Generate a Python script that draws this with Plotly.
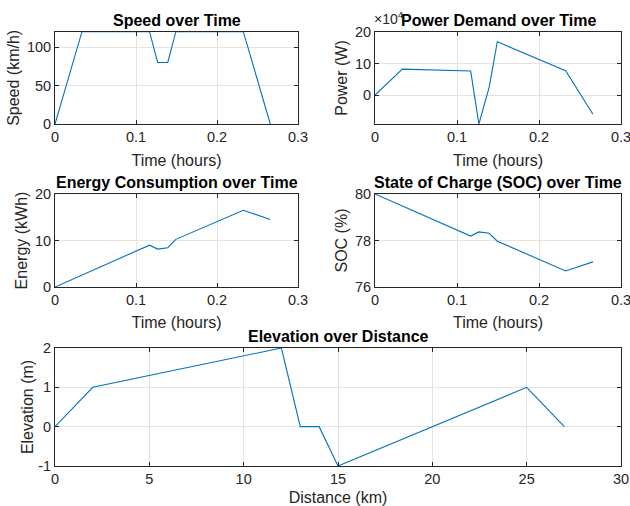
import plotly.graph_objects as go

# ---- data ----
time_h = [0, 0.0333, 0.1167, 0.1267, 0.1392, 0.1492, 0.2325, 0.2658]
speed_kmh = [0, 120, 120, 80, 80, 120, 120, 0]
power_w = [0, 82000, 76000, -92000, 24000, 169000, 77000, -61000]
energy_kwh = [0, 2.57, 9.0, 8.15, 8.45, 10.25, 16.5, 14.5]
soc_pct = [80, 79.49, 78.19, 78.37, 78.31, 77.97, 76.69, 77.08]
distance_km = [0, 2, 12, 13, 14, 15, 25, 27]
elevation_m = [0, 1, 2, 0, 0, -1, 1, 0]

W, H = 630, 506
LINE = "#0072BD"
TXT = "#262626"
GRID = "#e3e3e3"
FONT = "Liberation Sans, Arial, sans-serif"

def px(x):
    return x / W

def py(y):
    return 1 - y / H

# plot areas in page pixels: left, right, top, bottom
boxes = {
    1: (55, 298, 31.7, 124),
    2: (375, 621, 32, 124),
    3: (55, 298, 194, 287),
    4: (375, 621, 194, 287),
    5: (55, 621, 348, 466),
}

fig = go.Figure()
series = [
    (time_h, speed_kmh),
    (time_h, power_w),
    (time_h, energy_kwh),
    (time_h, soc_pct),
    (distance_km, elevation_m),
]
for i, (xs, ys) in enumerate(series, start=1):
    sfx = "" if i == 1 else str(i)
    fig.add_trace(go.Scatter(x=xs, y=ys, mode="lines",
                             line=dict(color=LINE, width=1.1),
                             xaxis="x" + sfx, yaxis="y" + sfx,
                             showlegend=False, hoverinfo="skip"))

axis_common = dict(showline=True, linecolor=TXT, linewidth=1, mirror="allticks",
                   ticks="inside", ticklen=4, tickcolor=TXT, showgrid=True,
                   gridcolor=GRID, gridwidth=1, zeroline=False, automargin=False,
                   ticklabeloverflow="allow",
                   tickfont=dict(size=14.5, color=TXT, family=FONT))

ylabels = {1: "Speed (km/h)", 2: "Power (W)", 3: "Energy (kWh)", 4: "SOC (%)", 5: "Elevation (m)"}
xlabels = {1: "Time (hours)", 2: "Time (hours)", 3: "Time (hours)", 4: "Time (hours)", 5: "Distance (km)"}
yranges = {1: [0, 120], 2: [-92000, 200000], 3: [0, 20], 4: [76, 80], 5: [-1, 2]}
xranges = {1: [0, 0.3], 2: [0, 0.3], 3: [0, 0.3], 4: [0, 0.3], 5: [0, 30]}
ytickv = {1: [0, 50, 100], 2: [0, 100000, 200000], 3: [0, 10, 20], 4: [76, 78, 80], 5: [-1, 0, 1, 2]}
yticktext = {1: ["0", "50", "100"], 2: ["0", "10", "20"], 3: ["0", "10", "20"],
             4: ["76", "78", "80"], 5: ["-1", "0", "1", "2"]}
xtickv = {i: [0, 0.1, 0.2, 0.3] for i in range(1, 5)}
xtickv[5] = [0, 5, 10, 15, 20, 25, 30]
xticktext = {i: ["0", "0.1", "0.2", "0.3"] for i in range(1, 5)}
xticktext[5] = ["0", "5", "10", "15", "20", "25", "30"]
titles = {1: "Speed over Time", 2: "Power Demand over Time", 3: "Energy Consumption over Time",
          4: "State of Charge (SOC) over Time", 5: "Elevation over Distance"}
xstand = {1: 10, 2: 10, 3: 9, 4: 9, 5: 15}
ystand = {1: 3, 2: 3, 3: 3, 4: 3, 5: 0}

layout = dict(width=W, height=H, margin=dict(l=0, r=0, t=0, b=0),
              paper_bgcolor="white", plot_bgcolor="white",
              font=dict(family=FONT, color=TXT))
annotations = []
for i in range(1, 6):
    sfx = "" if i == 1 else str(i)
    l, r, t, b = boxes[i]
    layout["xaxis" + sfx] = dict(axis_common, domain=[px(l), px(r)], anchor="y" + sfx,
                                 range=xranges[i], tickmode="array", tickvals=xtickv[i],
                                 ticktext=xticktext[i],
                                 title=dict(text=xlabels[i], font=dict(size=16, color=TXT), standoff=xstand[i]))
    layout["yaxis" + sfx] = dict(axis_common, domain=[py(b), py(t)], anchor="x" + sfx,
                                 range=yranges[i], tickmode="array", tickvals=ytickv[i],
                                 ticktext=yticktext[i],
                                 title=dict(text=ylabels[i], font=dict(size=16, color=TXT), standoff=ystand[i]))
    annotations.append(dict(text="<b>" + titles[i] + "</b>", x=px((l + r) / 2), y=py(t - 1),
                            xref="paper", yref="paper", xanchor="center", yanchor="bottom",
                            showarrow=False, font=dict(size=16, color="black", family=FONT)))

annotations.insert(0, dict(text="×10<sup>4</sup>", x=px(372), y=py(29), xref="paper", yref="paper",
                           xanchor="left", yanchor="bottom", showarrow=False,
                           font=dict(size=14, color=TXT, family=FONT)))
layout["annotations"] = annotations
fig.update_layout(**layout)
fig.write_html("out.html", config={"displayModeBar": False},
               post_script="document.body.style.margin='0';document.body.style.overflow='hidden';")
